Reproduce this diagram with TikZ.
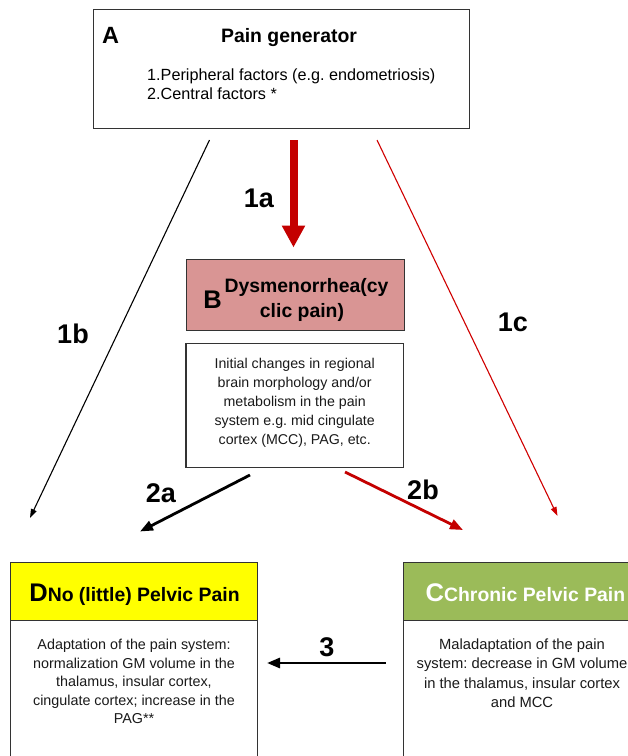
\documentclass[tikz,border=0pt]{standalone}
\usepackage{fontspec}
\setmainfont{Liberation Sans}
\frenchspacing
\usetikzlibrary{arrows.meta}
\definecolor{pinkB}{HTML}{D99594}
\definecolor{yellowD}{HTML}{FFFF00}
\definecolor{greenC}{HTML}{9BBB59}
\definecolor{redA}{HTML}{C40000}
\definecolor{redL}{HTML}{D00000}
\definecolor{edgec}{HTML}{333333}
\definecolor{txt}{HTML}{1A1A1A}
\tikzset{
  box/.style={draw=edgec, line width=1.1pt, inner sep=0pt},
  body/.style={text=txt, align=center, inner sep=0pt, anchor=north},
  head/.style={inner sep=0pt, font=\bfseries\fontsize{19.4}{24}\selectfont},
  bigletter/.style={inner sep=0pt, anchor=base, font=\bfseries\fontsize{25.5}{28}\selectfont},
  lab/.style={inner sep=0pt, font=\bfseries\fontsize{27}{28}\selectfont},
  thinarrow/.style={line width=1.1pt, -{Triangle[width=6pt,length=9pt]}},
  medarrow/.style={line width=2.8pt, -{Triangle[width=10pt,length=13pt]}},
}
\begin{document}
\begin{tikzpicture}[x=1pt,y=-1pt]
\useasboundingbox (0,0) rectangle (628,756);
\fill[white] (0,0) rectangle (628,756);
\clip (0,0) rectangle (628,756);

% ---- A
\node[box, minimum width=376pt, minimum height=119pt] (A) at (281.3,68.8) {};
\node[inner sep=0pt, anchor=base, font=\bfseries\fontsize{23.5}{26}\selectfont] (Al) at (110.5,43.3) {A};
\node[head, anchor=base] (At) at (289,42.3) {Pain generator};
\node[inner sep=0pt, anchor=base west, font=\fontsize{16.2}{18.7}\selectfont] (A1) at (147,80.5) {\makebox[13.5pt][l]{1.}Peripheral factors (e.g. endometriosis)};
\node[inner sep=0pt, anchor=base west, font=\fontsize{16.2}{18.7}\selectfont] (A2) at (147,99.2) {\makebox[13.5pt][l]{2.}Central factors *};

% ---- B
\node[box, fill=pinkB, minimum width=218pt, minimum height=71pt] (B) at (295.2,294.7) {};
\node[bigletter] (Bl) at (212.5,308) {B};
\node[head, anchor=base] (Bt1) at (306.5,292.2) {Dysmenorrhea(cy};
\node[head, anchor=base] (Bt2) at (302,317) {clic pain)};
\node[box, minimum width=217.5pt, minimum height=124.5pt] (Bb) at (294.7,405.5) {};
\node[body, font=\fontsize{14.2}{19}\selectfont] (Bbt) at (294.7,358.2) {Initial changes in regional\\brain morphology and/or\\metabolism in the pain\\system e.g. mid cingulate\\cortex (MCC), PAG, etc.};

% ---- D
\node[box, fill=yellowD, minimum width=246.6pt, minimum height=58pt] (D) at (134,591.7) {};
\node[box, minimum width=246.6pt, minimum height=160pt] (Db) at (134,700.7) {};
\node[inner sep=0pt, anchor=base] (Dt) at (134.5,601.5) {{\bfseries\fontsize{25.5}{28}\selectfont D}{\bfseries\fontsize{19.4}{24}\selectfont No (little) Pelvic Pain}};
\node[body, font=\fontsize{14.35}{18.6}\selectfont] (Dbt) at (134,638.9) {Adaptation of the pain system:\\normalization GM volume in the\\thalamus, insular cortex,\\cingulate cortex; increase in the\\PAG**};

% ---- C
\node[box, fill=greenC, minimum width=246.6pt, minimum height=58pt] (C) at (526.6,591.7) {};
\node[box, minimum width=246.6pt, minimum height=160pt] (Cb) at (526.6,700.7) {};
\node[inner sep=0pt, anchor=base west, text=white] (Ct) at (425.5,601.5) {{\bfseries\fontsize{25.5}{28}\selectfont C}{\bfseries\fontsize{19.4}{24}\selectfont Chronic Pelvic Pain}};
\node[body, font=\fontsize{14.75}{19.4}\selectfont] (Cbt) at (522,638.6) {Maladaptation of the pain\\system: decrease in GM volume\\in the thalamus, insular cortex\\and MCC};

% ---- connector end points
\coordinate (s1a) at (293.5,140);
\coordinate (e1a) at (293.5,247.5);
\coordinate (s1b) at (209.5,140);
\coordinate (e1b) at (30,518);
\coordinate (s1c) at (377,140);
\coordinate (e1c) at (557.5,516);
\coordinate (s2a) at (250,475);
\coordinate (e2a) at (140,531.5);
\coordinate (s2b) at (345,472);
\coordinate (e2b) at (463,530);
\coordinate (s3) at (385.5,663);
\coordinate (e3) at (267,663);

\draw[redA, line width=8pt, -{Triangle[width=22pt,length=22pt]}] (s1a) -- (e1a);
\draw[thinarrow, black] (s1b) -- (e1b);
\draw[thinarrow, redL] (s1c) -- (e1c);
\draw[medarrow, black] (s2a) -- (e2a);
\draw[medarrow, redA] (s2b) -- (e2b);
\draw[medarrow, black] (s3) -- (e3);

% ---- labels
\node[lab] (L1a) at (259,198) {1a};
\node[lab] (L1b) at (73,334) {1b};
\node[lab] (L1c) at (513,322) {1c};
\node[lab] (L2a) at (161,493) {2a};
\node[lab] (L2b) at (423,490) {2b};
\node[lab] (L3) at (327,647) {3};
\end{tikzpicture}
\end{document}
